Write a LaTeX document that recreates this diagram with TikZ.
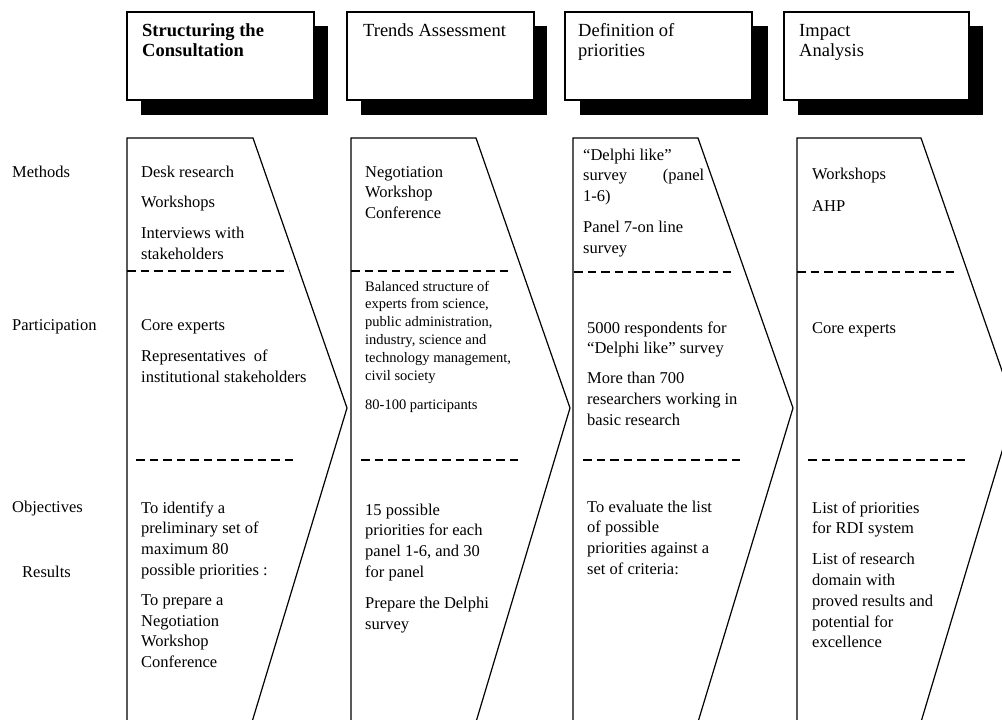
\documentclass[tikz,border=0pt]{standalone}
\usepackage{fontspec}
\setmainfont{Liberation Serif}
\newcommand{\txtblk}[1]{\begin{tabular}[t]{@{}l@{}}#1\end{tabular}}
\begin{document}
\begin{tikzpicture}[x=1pt,y=-1pt,
  body/.style={anchor=base west, inner sep=0pt, font=\fontsize{16.5}{20.8}\selectfont},
  small/.style={anchor=base west, inner sep=0pt, font=\fontsize{14.5}{17.8}\selectfont},
  head/.style={anchor=base west, inner sep=0pt, font=\fontsize{18.5}{20.5}\selectfont},
  hbox/.style={draw=black, line width=1.1pt, fill=white, anchor=north west, minimum width=187pt, minimum height=88pt, inner sep=0pt, outer sep=0pt},
  shade/.style={fill=black},
  chev/.style={draw=black, line width=1.2pt, line join=miter},
  sep/.style={draw=black, line width=2pt, dash pattern=on 8.5pt off 5pt},
]
\useasboundingbox (0,0) rectangle (1002,720);
\clip (0,0) rectangle (1002,720);
\fill[white] (0,0) rectangle (1002,720);

% header boxes with shadows
\fill[shade] (141,26) rectangle (328,115);
\node[hbox] (h1) at (127,12) {};
\fill[shade] (361,26) rectangle (547,115);
\node[hbox] (h2) at (347,12) {};
\fill[shade] (580,26) rectangle (768,115);
\node[hbox] (h3) at (565,12) {};
\fill[shade] (798,26) rectangle (983,115);
\node[hbox, minimum width=185pt] (h4) at (784,12) {};

\node[head] (t1) at (142,36) {\txtblk{\textbf{Structuring the}\\ \textbf{Consultation}}};
\node[head] (t2) at (363,36) {Trends Assessment};
\node[head] (t3) at (578,36) {\txtblk{Definition of\\ priorities}};
\node[head] (t4) at (799,36) {\txtblk{Impact\\ Analysis}};

% chevrons
\draw[chev] (127,722) -- (127,138) -- (253,138) -- (347,408) -- (252,722);
\draw[chev] (351,722) -- (351,138) -- (476,138) -- (570,408) -- (476,722);
\draw[chev] (573,722) -- (573,138) -- (698,138) -- (793,408) -- (698,722);
\draw[chev] (797,722) -- (797,138) -- (921,138) -- (1015,408) -- (921,722);

% dashed separators
\draw[sep] (127,271) -- (289,271);
\draw[sep] (351,271) -- (511,271);
\draw[sep] (574,272) -- (734,272);
\draw[sep] (797,272) -- (957,272);
\draw[sep] (136,460) -- (297,460);
\draw[sep] (361,460) -- (522,460);
\draw[sep] (583,460) -- (744,460);
\draw[sep] (808,460) -- (968,460);

% row labels
\node[body] (lm) at (12,177) {Methods};
\node[body] (lp) at (12,330) {Participation};
\node[body] (lo) at (12,512) {Objectives};
\node[body] (lr) at (22,577) {Results};

% column 1
\node[body] (c1a) at (141,177) {\txtblk{Desk research\\[10pt] Workshops\\[10pt] Interviews with\\ stakeholders}};
\node[body] (c1b) at (141,330) {\txtblk{Core experts\\[10.5pt] Representatives\ \ of\\ institutional stakeholders}};
\node[body] (c1c) at (141,513) {\txtblk{To identify a\\ preliminary set of\\ maximum 80\\ possible priorities :\\[9pt] To prepare a\\ Negotiation\\ Workshop\\ Conference}};

% column 2
\node[body] (c2a) at (365,177) {\txtblk{Negotiation\\ Workshop\\ Conference}};
\node[small] (c2b) at (365,291) {\txtblk{Balanced structure of\\ experts from science,\\ public administration,\\ industry, science and\\ technology management,\\ civil society\\[12pt] 80-100 participants}};
\node[body] (c2c) at (365,515) {\txtblk{15 possible\\ priorities for each\\ panel 1-6, and 30\\ for panel\\[10pt] Prepare the Delphi\\ survey}};

% column 3
\node[body] (c3a) at (583,160) {\txtblk{“Delphi like”\\ \makebox[121pt][s]{survey (panel}\\ 1-6)\\[10pt] Panel 7-on line\\ survey}};
\node[body] (c3b) at (587,333) {\txtblk{5000 respondents for\\ “Delphi like” survey\\[9pt] More than 700\\ researchers working in\\ basic research}};
\node[body] (c3c) at (587,512) {\txtblk{To evaluate the list\\ of possible\\ priorities against a\\ set of criteria:}};

% column 4
\node[body] (c4a) at (812,179) {\txtblk{Workshops\\[12pt] AHP}};
\node[body] (c4b) at (812,333) {Core experts};
\node[body] (c4c) at (812,513) {\txtblk{List of priorities\\ for RDI system\\[10pt] List of research\\ domain with\\ proved results and\\ potential for\\ excellence}};
\end{tikzpicture}
\end{document}
